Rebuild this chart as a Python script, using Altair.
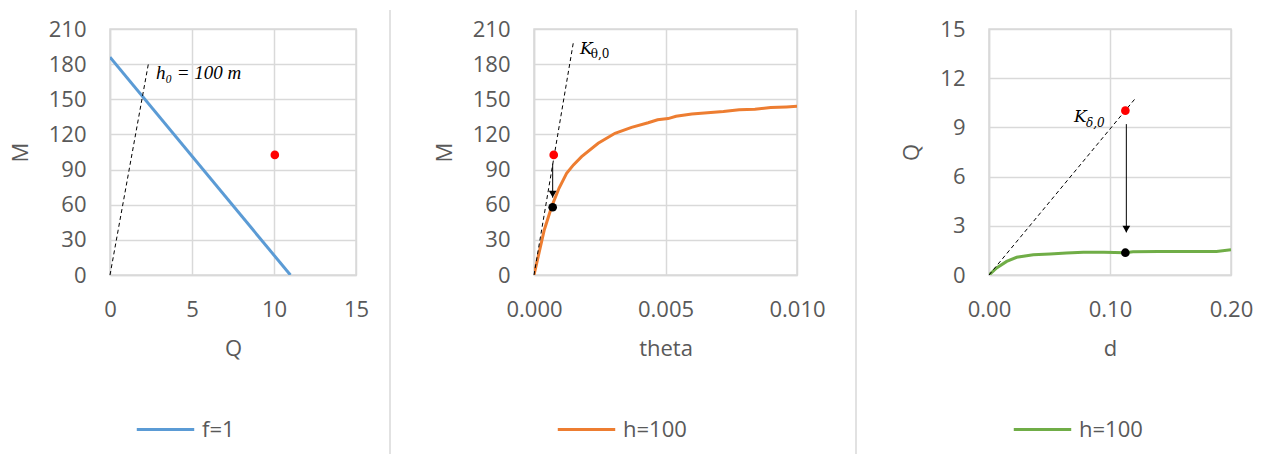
import altair as alt
import pandas as pd

# ---------------- data ----------------
# Panel 1 : M vs Q
P1_SERIES = "f=1"
P1_Q = [0.0, 11.0]
P1_M = [186.0, 0.0]
P1_RED_Q = [10.05]
P1_RED_M = [102.5]
P1_DASH_Q = [0.0, 2.35]
P1_DASH_M = [0.0, 181.0]
P1_LABEL = "h₀ = 100 m"
P1_LABEL_Q = [2.8]
P1_LABEL_M = [167.0]

# Panel 2 : M vs theta
P2_SERIES = "h=100"
P2_THETA = [0.0, 0.00039, 0.00067, 0.00095, 0.00124, 0.00150, 0.00181, 0.00244, 0.00308,
            0.00371, 0.00434, 0.0047, 0.0051, 0.0054, 0.0060, 0.0066, 0.0072, 0.0078,
            0.0084, 0.0090, 0.0096, 0.0100]
P2_M = [0.0, 38.4, 58.3, 74.0, 86.8, 94.0, 101.0, 112.4, 121.0,
        126.0, 130.0, 132.5, 133.5, 135.5, 137.5, 138.5, 139.5, 141.0,
        141.5, 143.0, 143.5, 144.0]
P2_RED_T = [0.00075]
P2_RED_M = [102.5]
P2_BLACK_T = [0.00071]
P2_BLACK_M = [57.8]
P2_ARROW_T = [0.00071]
P2_ARROW_M = [95.0]
P2_ARROW_M2 = [66.0]
P2_TIP_M = [69.0]
P2_DASH_T = [0.0, 0.0015]
P2_DASH_M = [0.0, 199.0]
P2_K_T = [0.00175]
P2_K_M = [189.0]
P2_SUB_T = [0.00216]
P2_SUB_M = [185.5]

# Panel 3 : Q vs d
P3_SERIES = "h=100"
P3_D = [0.0, 0.0063, 0.0146, 0.0229, 0.0366, 0.0504, 0.064, 0.078, 0.095,
        0.1124, 0.119, 0.14, 0.16, 0.188, 0.2]
P3_Q = [0.0, 0.43, 0.83, 1.08, 1.24, 1.28, 1.34, 1.38, 1.38,
        1.36, 1.42, 1.44, 1.44, 1.44, 1.54]
P3_RED_D = [0.1127]
P3_RED_Q = [10.02]
P3_BLACK_D = [0.1127]
P3_BLACK_Q = [1.36]
P3_ARROW_D = [0.1135]
P3_ARROW_Q = [9.2]
P3_ARROW_Q2 = [2.6]
P3_TIP_Q = [2.8]
P3_DASH_D = [0.0, 0.1212]
P3_DASH_Q = [0.0, 10.79]
P3_K_D = [0.0702]
P3_K_Q = [9.3]
P3_SUB_D = [0.0802]
P3_SUB_Q = [9.05]

# ---------------- styling ----------------
TXT = "#595959"
GRID = "#d9d9d9"
FONT = "Open Sans"
SERIF = "DejaVu Serif"
SERIF2 = "Liberation Serif"
PW1, PW2, PW3, PH = 246, 263, 242, 246


def axis(values, fmt=None, title_pad=18):
    kw = dict(values=values, grid=True, ticks=False, labelOverlap=False,
              labelFlush=False, labelPadding=24, titlePadding=title_pad,
              gridColor=GRID, gridWidth=1.5, domainColor=GRID, domainWidth=1.5,
              labelFont=FONT, labelFontSize=22, labelColor=TXT,
              titleFont=FONT, titleFontSize=22, titleColor=TXT,
              titleFontWeight="normal")
    if fmt:
        kw["format"] = fmt
    return alt.Axis(**kw)


def panel(xs, ys, series, color, xname, yname, xdom, ydom, xticks, yticks,
          xfmt, w, legend_x, extras):
    df = pd.DataFrame({xname: xs, yname: ys, "series": [series] * len(xs)})
    xsc = alt.Scale(domain=xdom, nice=False, zero=False, padding=0)
    ysc = alt.Scale(domain=ydom, nice=False, zero=False, padding=0)
    xax = axis(xticks, xfmt, 18)
    yax = axis(yticks, None, 16)
    X = lambda f: alt.X(f, scale=xsc, axis=xax, title=xname)
    Y = lambda f: alt.Y(f, scale=ysc, axis=yax, title=yname)
    line = alt.Chart(df).mark_line(strokeWidth=3, clip=True).encode(
        x=X(f"{xname}:Q"),
        y=Y(f"{yname}:Q"),
        color=alt.Color("series:N",
                        scale=alt.Scale(domain=[series], range=[color]),
                        legend=alt.Legend(orient="none", legendX=legend_x, legendY=370,
                                          title=None, symbolType="stroke",
                                          symbolStrokeWidth=3, symbolSize=3300,
                                          labelFont=FONT, labelFontSize=22,
                                          labelColor=TXT, labelOffset=6, padding=0)),
    )
    layers = [line] + [e(xname, yname, X, Y) for e in extras]
    return alt.layer(*layers).properties(width=w, height=PH)


def dashed(xv, yv):
    def f(xn, yn, X, Y):
        d = pd.DataFrame({xn: xv, yn: yv})
        return alt.Chart(d).mark_line(color="black", strokeWidth=1,
                                      strokeDash=[4, 3]).encode(
            x=X(f"{xn}:Q"), y=Y(f"{yn}:Q"))
    return f


def dot(xv, yv, color):
    def f(xn, yn, X, Y):
        d = pd.DataFrame({xn: xv, yn: yv})
        return alt.Chart(d).mark_point(filled=True, opacity=1, size=75,
                                       color=color).encode(
            x=X(f"{xn}:Q"), y=Y(f"{yn}:Q"))
    return f


def arrow(xv, y1, y2, ytip):
    def f(xn, yn, X, Y):
        d = pd.DataFrame({xn: xv, yn: y1, "y2": y2, "tip": ytip})
        shaft = alt.Chart(d).mark_rule(color="black", strokeWidth=1).encode(
            x=X(f"{xn}:Q"), y=Y(f"{yn}:Q"), y2="y2:Q")
        head = alt.Chart(d).mark_point(shape="triangle-down", filled=True, opacity=1,
                                       size=60, color="black").encode(
            x=X(f"{xn}:Q"), y=Y("tip:Q"))
        return alt.layer(shaft, head)
    return f


def label(xv, yv, text, size, italic=True, font=SERIF):
    def f(xn, yn, X, Y):
        d = pd.DataFrame({xn: xv, yn: yv, "t": [text] * len(xv)})
        return alt.Chart(d).mark_text(align="left", baseline="alphabetic",
                                      font=font, fontSize=size,
                                      fontStyle="italic" if italic else "normal",
                                      color="black").encode(
            x=X(f"{xn}:Q"), y=Y(f"{yn}:Q"), text="t:N")
    return f


def separator(xpix, visible=True):
    def f(xn, yn, X, Y):
        d = pd.DataFrame({"k": [0]})
        return alt.Chart(d).mark_rule(color=GRID, strokeWidth=1.5,
                                      opacity=1 if visible else 0).encode(
            x=alt.value(xpix), y=alt.value(-19), y2=alt.value(425))
    return f


p1 = panel(P1_Q, P1_M, P1_SERIES, "#5b9bd5", "Q", "M", [0, 15], [0, 210],
           [0, 5, 10, 15], list(range(0, 211, 30)), None, PW1, 25,
           [separator(280), dashed(P1_DASH_Q, P1_DASH_M), dot(P1_RED_Q, P1_RED_M, "red"),
            label(P1_LABEL_Q, P1_LABEL_M, P1_LABEL, 19, True, SERIF2)])

p2 = panel(P2_THETA, P2_M, P2_SERIES, "#ed7d31", "theta", "M", [0, 0.01], [0, 210],
           [0, 0.005, 0.01], list(range(0, 211, 30)), ".3f", PW2, 22,
           [separator(-141, False), separator(322), dashed(P2_DASH_T, P2_DASH_M),
            dot(P2_RED_T, P2_RED_M, "red"),
            arrow(P2_ARROW_T, P2_ARROW_M, P2_ARROW_M2, P2_TIP_M),
            dot(P2_BLACK_T, P2_BLACK_M, "black"),
            label(P2_K_T, P2_K_M, "K", 17), label(P2_SUB_T, P2_SUB_M, "θ,0", 12, False)])

p3 = panel(P3_D, P3_Q, P3_SERIES, "#70ad47", "d", "Q", [0, 0.2], [0, 15],
           [0, 0.1, 0.2], list(range(0, 16, 3)), ".2f", PW3, 23,
           [separator(-130, False), dashed(P3_DASH_D, P3_DASH_Q),
            dot(P3_RED_D, P3_RED_Q, "red"),
            arrow(P3_ARROW_D, P3_ARROW_Q, P3_ARROW_Q2, P3_TIP_Q),
            dot(P3_BLACK_D, P3_BLACK_Q, "black"),
            label(P3_K_D, P3_K_Q, "K", 17), label(P3_SUB_D, P3_SUB_Q, "δ,0", 12)])

chart = alt.hconcat(p1, p2, p3, spacing=0).resolve_scale(
    color="independent", x="independent", y="independent"
).resolve_legend(color="independent").properties(
    padding={"left": 0, "top": 0, "right": 0, "bottom": 0}
).configure_axis(
    labelOverlap=False, labelFlush=False
).configure_view(stroke=GRID, strokeWidth=1.5)

chart.save("out.html", embed_options={"renderer": "svg", "actions": False})
